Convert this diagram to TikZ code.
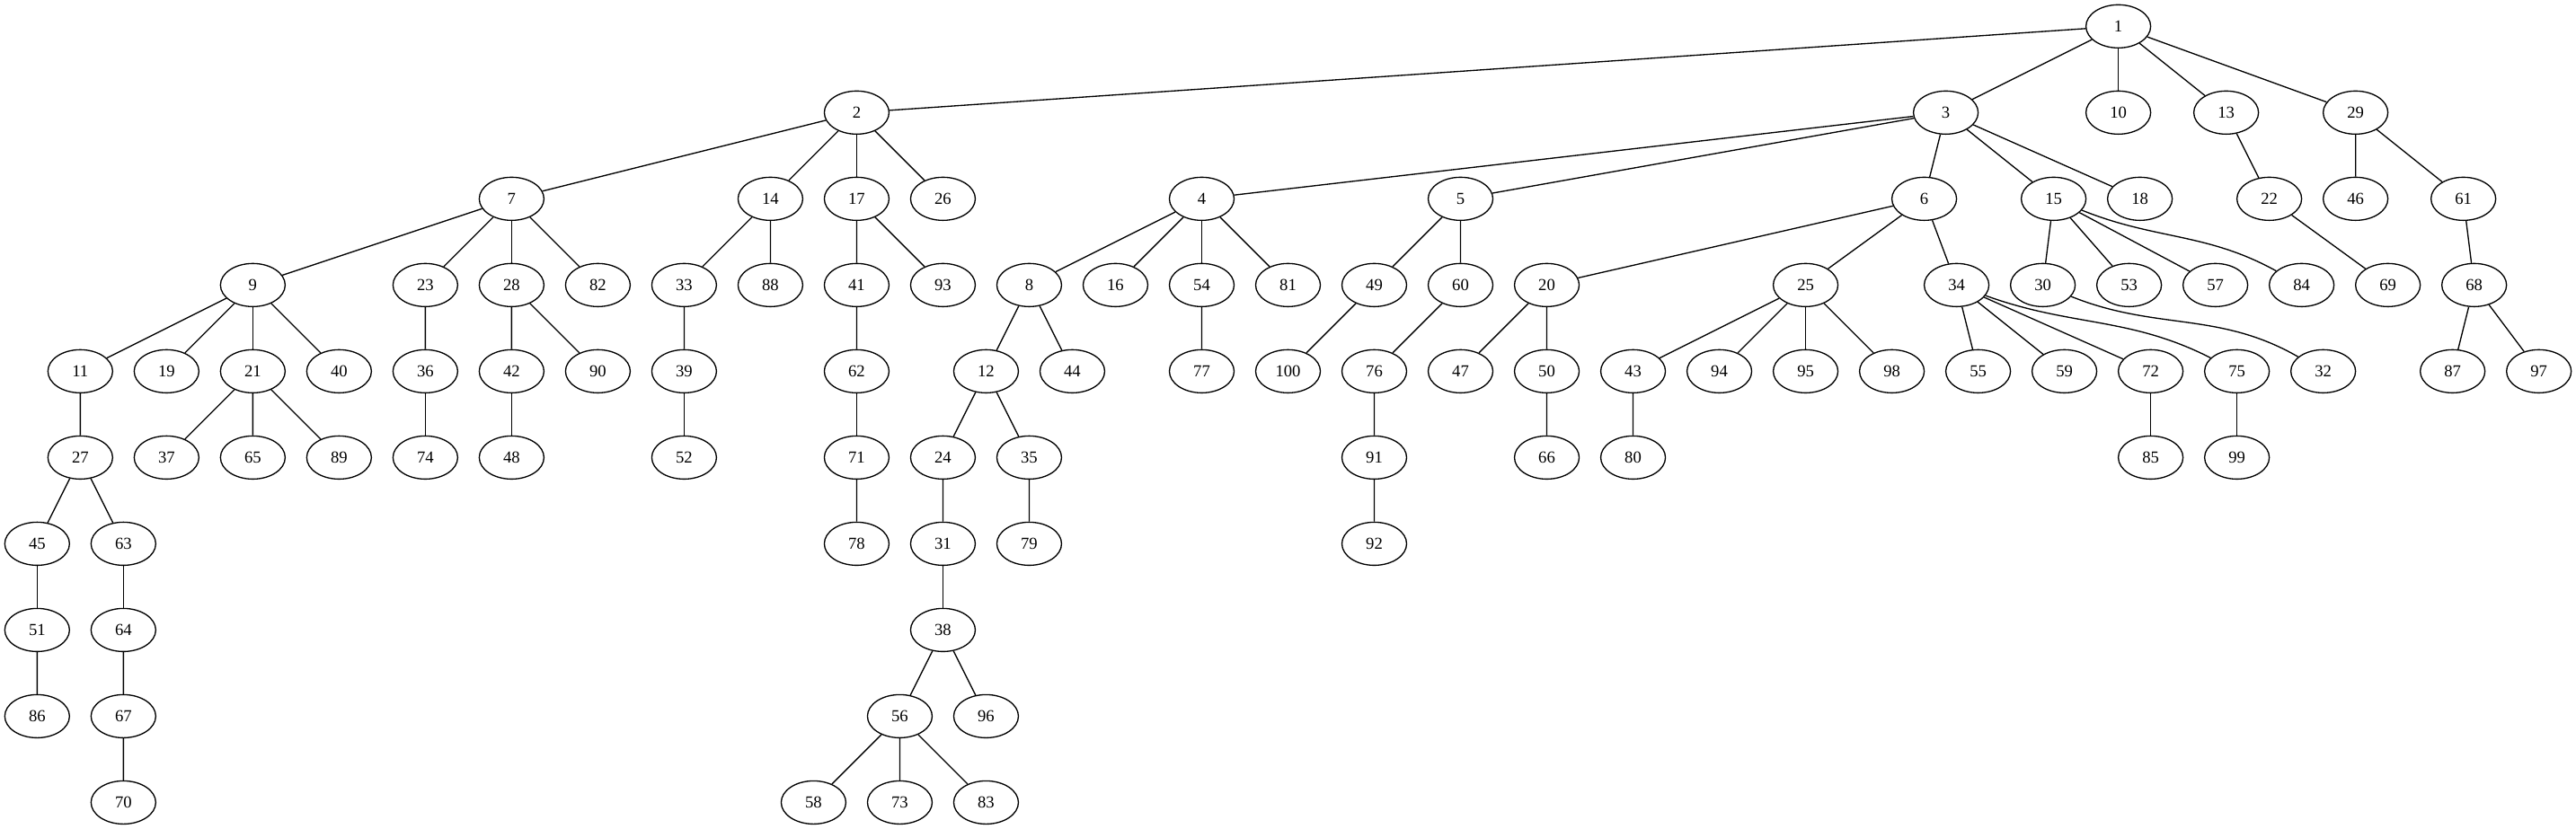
\documentclass[tikz,border=0pt]{standalone}
\usepackage{fontspec}
\setmainfont{Liberation Serif}
\usepackage{tikz}
\usetikzlibrary{shapes.geometric}
\newcommand{\widthvertex}{54pt}
\newcommand{\heightvertex}{36pt}
\newcommand{\widthcolumn}{36pt}
\newcommand{\heightrank}{72pt}
\tikzset{
    vertex/.style={draw, ellipse, line width=1pt, inner sep=0pt,
        minimum width=\widthvertex, minimum height=\heightvertex,
        font=\fontsize{14pt}{16pt}\selectfont},
    link/.style={line width=1pt}
}

\begin{document}
\begin{tikzpicture}[x=\widthcolumn, y=-\heightrank]
        \useasboundingbox (-31pt,22pt) rectangle (2119pt,-670pt);

        % rank 0 and 1
        \path
            (48.25,0) node[vertex] (v1) {1}
            (19,1) node[vertex] (v2) {2}
            (44.25,1) node[vertex] (v3) {3}
            (48.25,1) node[vertex] (v10) {10}
            (50.75,1) node[vertex] (v13) {13}
            (53.75,1) node[vertex] (v29) {29};

        % rank 2
        \path
            (11,2) node[vertex] (v7) {7}
            (17,2) node[vertex] (v14) {14}
            (19,2) node[vertex] (v17) {17}
            (21,2) node[vertex] (v26) {26}
            (27,2) node[vertex] (v4) {4}
            (33,2) node[vertex] (v5) {5}
            (43.75,2) node[vertex] (v6) {6}
            (46.75,2) node[vertex] (v15) {15}
            (48.75,2) node[vertex] (v18) {18}
            (51.75,2) node[vertex] (v22) {22}
            (53.75,2) node[vertex] (v46) {46}
            (56.25,2) node[vertex] (v61) {61};

        % rank 3
        \path
            (5,3) node[vertex] (v9) {9}
            (9,3) node[vertex] (v23) {23}
            (11,3) node[vertex] (v28) {28}
            (13,3) node[vertex] (v82) {82}
            (15,3) node[vertex] (v33) {33}
            (17,3) node[vertex] (v88) {88}
            (19,3) node[vertex] (v41) {41}
            (21,3) node[vertex] (v93) {93}
            (23,3) node[vertex] (v8) {8}
            (25,3) node[vertex] (v16) {16}
            (27,3) node[vertex] (v54) {54}
            (29,3) node[vertex] (v81) {81}
            (31,3) node[vertex] (v49) {49}
            (33,3) node[vertex] (v60) {60}
            (35,3) node[vertex] (v20) {20}
            (41,3) node[vertex] (v25) {25}
            (44.5,3) node[vertex] (v34) {34}
            (46.5,3) node[vertex] (v30) {30}
            (48.5,3) node[vertex] (v53) {53}
            (50.5,3) node[vertex] (v57) {57}
            (52.5,3) node[vertex] (v84) {84}
            (54.5,3) node[vertex] (v69) {69}
            (56.5,3) node[vertex] (v68) {68};

        % rank 4
        \path
            (1,4) node[vertex] (v11) {11}
            (3,4) node[vertex] (v19) {19}
            (5,4) node[vertex] (v21) {21}
            (7,4) node[vertex] (v40) {40}
            (9,4) node[vertex] (v36) {36}
            (11,4) node[vertex] (v42) {42}
            (13,4) node[vertex] (v90) {90}
            (15,4) node[vertex] (v39) {39}
            (19,4) node[vertex] (v62) {62}
            (22,4) node[vertex] (v12) {12}
            (24,4) node[vertex] (v44) {44}
            (27,4) node[vertex] (v77) {77}
            (29,4) node[vertex] (v100) {100}
            (31,4) node[vertex] (v76) {76}
            (33,4) node[vertex] (v47) {47}
            (35,4) node[vertex] (v50) {50}
            (37,4) node[vertex] (v43) {43}
            (39,4) node[vertex] (v94) {94}
            (41,4) node[vertex] (v95) {95}
            (43,4) node[vertex] (v98) {98}
            (45,4) node[vertex] (v55) {55}
            (47,4) node[vertex] (v59) {59}
            (49,4) node[vertex] (v72) {72}
            (51,4) node[vertex] (v75) {75}
            (53,4) node[vertex] (v32) {32}
            (56,4) node[vertex] (v87) {87}
            (58,4) node[vertex] (v97) {97};

        % rank 5
        \path
            (1,5) node[vertex] (v27) {27}
            (3,5) node[vertex] (v37) {37}
            (5,5) node[vertex] (v65) {65}
            (7,5) node[vertex] (v89) {89}
            (9,5) node[vertex] (v74) {74}
            (11,5) node[vertex] (v48) {48}
            (15,5) node[vertex] (v52) {52}
            (19,5) node[vertex] (v71) {71}
            (21,5) node[vertex] (v24) {24}
            (23,5) node[vertex] (v35) {35}
            (31,5) node[vertex] (v91) {91}
            (35,5) node[vertex] (v66) {66}
            (37,5) node[vertex] (v80) {80}
            (49,5) node[vertex] (v85) {85}
            (51,5) node[vertex] (v99) {99};

        % ranks 6 to 9
        \path
            (0,6) node[vertex] (v45) {45}
            (2,6) node[vertex] (v63) {63}
            (19,6) node[vertex] (v78) {78}
            (21,6) node[vertex] (v31) {31}
            (23,6) node[vertex] (v79) {79}
            (31,6) node[vertex] (v92) {92}
            (0,7) node[vertex] (v51) {51}
            (2,7) node[vertex] (v64) {64}
            (21,7) node[vertex] (v38) {38}
            (0,8) node[vertex] (v86) {86}
            (2,8) node[vertex] (v67) {67}
            (20,8) node[vertex] (v56) {56}
            (22,8) node[vertex] (v96) {96}
            (2,9) node[vertex] (v70) {70}
            (18,9) node[vertex] (v58) {58}
            (20,9) node[vertex] (v73) {73}
            (22,9) node[vertex] (v83) {83};

        \draw[link] (v1) edge (v2) edge (v3) edge (v10) edge (v13) edge (v29);
        \draw[link] (v2) edge (v7) edge (v14) edge (v17) edge (v26);
        \draw[link] (v3) edge (v4) edge (v5) edge (v6) edge (v15) edge (v18);
        \draw[link] (v13) -- (v22) (v29) -- (v46) (v29) -- (v61);
        \draw[link] (v7) edge (v9) edge (v23) edge (v28) edge (v82);
        \draw[link] (v14) -- (v33) (v14) -- (v88) (v17) -- (v41) (v17) -- (v93);
        \draw[link] (v4) edge (v8) edge (v16) edge (v54) edge (v81);
        \draw[link] (v5) -- (v49) (v5) -- (v60);
        \draw[link] (v6) edge (v20) edge (v25) edge (v34);
        \draw[link] (v15) edge (v30) edge (v53) edge (v57) edge[out=-22, in=151] (v84);
        \draw[link] (v22) -- (v69) (v61) -- (v68);
        \draw[link] (v9) edge (v11) edge (v19) edge (v21) edge (v40);
        \draw[link] (v23) -- (v36) (v28) -- (v42) (v28) -- (v90) (v33) -- (v39) (v41) -- (v62);
        \draw[link] (v8) -- (v12) (v8) -- (v44) (v54) -- (v77) (v49) -- (v100) (v60) -- (v76);
        \draw[link] (v20) -- (v47) (v20) -- (v50);
        \draw[link] (v25) edge (v43) edge (v94) edge (v95) edge (v98);
        \draw[link] (v34) edge (v55) edge (v59) edge (v72) edge[out=-20, in=153] (v75);
        \draw[link] (v30) to[out=-22, in=150] (v32);
        \draw[link] (v68) -- (v87) (v68) -- (v97);
        \draw[link] (v11) -- (v27) (v21) -- (v37) (v21) -- (v65) (v21) -- (v89);
        \draw[link] (v36) -- (v74) (v42) -- (v48) (v39) -- (v52) (v62) -- (v71);
        \draw[link] (v12) -- (v24) (v12) -- (v35) (v76) -- (v91) (v50) -- (v66) (v43) -- (v80);
        \draw[link] (v72) -- (v85) (v75) -- (v99);
        \draw[link] (v27) -- (v45) (v27) -- (v63) (v71) -- (v78) (v24) -- (v31) (v35) -- (v79) (v91) -- (v92);
        \draw[link] (v45) -- (v51) (v63) -- (v64) (v31) -- (v38);
        \draw[link] (v51) -- (v86) (v64) -- (v67) (v38) -- (v56) (v38) -- (v96);
        \draw[link] (v67) -- (v70) (v56) -- (v58) (v56) -- (v73) (v56) -- (v83);
    \end{tikzpicture}
\end{document}
